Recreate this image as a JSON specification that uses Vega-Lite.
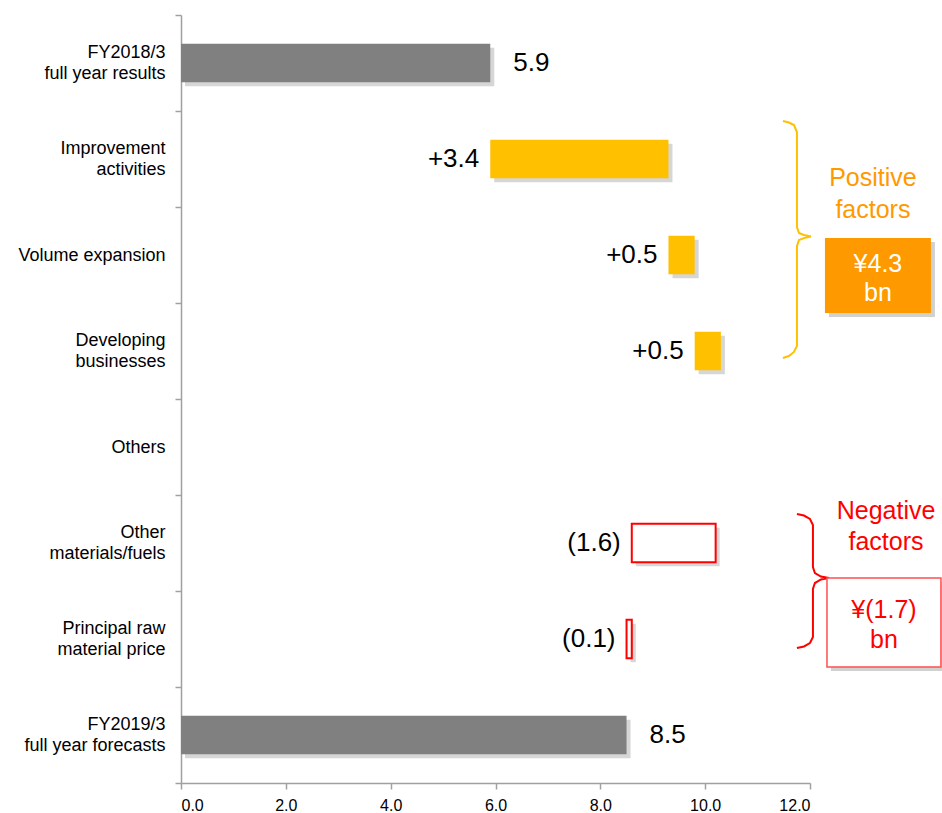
{
  "$schema": "https://vega.github.io/schema/vega-lite/v6.json",
  "width": 629,
  "height": 768,
  "autosize": {"type": "pad"},
  "padding": {"left": 17, "top": 14, "right": 0, "bottom": 0},
  "background": "white",
  "config": {"view": {"stroke": null}, "font": "Liberation Sans"},
  "datasets": {
    "bars": [
      {"cat": "FY2018/3|full year results", "start": 0, "end": 5.9, "type": "total", "label": "5.9"},
      {"cat": "Improvement|activities", "start": 5.9, "end": 9.3, "type": "pos", "label": "+3.4"},
      {"cat": "Volume expansion", "start": 9.3, "end": 9.8, "type": "pos", "label": "+0.5"},
      {"cat": "Developing|businesses", "start": 9.8, "end": 10.3, "type": "pos", "label": "+0.5"},
      {"cat": "Other|materials/fuels", "start": 8.6, "end": 10.2, "type": "neg", "label": "(1.6)"},
      {"cat": "Principal raw|material price", "start": 8.5, "end": 8.6, "type": "neg", "label": "(0.1)"},
      {"cat": "FY2019/3|full year forecasts", "start": 0, "end": 8.5, "type": "total", "label": "8.5"}
    ],
    "braces": [
      {"brace": "pos", "x": 11.484, "y": 1.104},
      {"brace": "pos", "x": 11.598, "y": 1.120},
      {"brace": "pos", "x": 11.694, "y": 1.146},
      {"brace": "pos", "x": 11.751, "y": 1.219},
      {"brace": "pos", "x": 11.751, "y": 2.208},
      {"brace": "pos", "x": 11.789, "y": 2.271},
      {"brace": "pos", "x": 11.885, "y": 2.292},
      {"brace": "pos", "x": 12.018, "y": 2.307},
      {"brace": "pos", "x": 11.885, "y": 2.324},
      {"brace": "pos", "x": 11.789, "y": 2.345},
      {"brace": "pos", "x": 11.751, "y": 2.408},
      {"brace": "pos", "x": 11.751, "y": 3.448},
      {"brace": "pos", "x": 11.694, "y": 3.510},
      {"brace": "pos", "x": 11.598, "y": 3.552},
      {"brace": "pos", "x": 11.484, "y": 3.573},
      {"brace": "neg", "x": 11.751, "y": 5.198},
      {"brace": "neg", "x": 11.885, "y": 5.214},
      {"brace": "neg", "x": 11.999, "y": 5.250},
      {"brace": "neg", "x": 12.056, "y": 5.313},
      {"brace": "neg", "x": 12.056, "y": 5.750},
      {"brace": "neg", "x": 12.094, "y": 5.813},
      {"brace": "neg", "x": 12.209, "y": 5.849},
      {"brace": "neg", "x": 12.362, "y": 5.865},
      {"brace": "neg", "x": 12.209, "y": 5.880},
      {"brace": "neg", "x": 12.094, "y": 5.917},
      {"brace": "neg", "x": 12.056, "y": 5.979},
      {"brace": "neg", "x": 12.056, "y": 6.479},
      {"brace": "neg", "x": 11.999, "y": 6.542},
      {"brace": "neg", "x": 11.885, "y": 6.578},
      {"brace": "neg", "x": 11.751, "y": 6.594}
    ],
    "boxes": [
      {"box": "pos", "x": 12.285, "x2": 14.307, "y": 2.323, "y2": 3.104},
      {"box": "neg", "x": 12.324, "x2": 14.498, "y": 5.865, "y2": 6.792}
    ],
    "notes": [
      {"group": "pos", "text": "Positive", "x": 13.2, "y": 1.698},
      {"group": "pos", "text": "factors", "x": 13.2, "y": 2.031},
      {"group": "posbox", "text": "¥4.3", "x": 13.296, "y": 2.59},
      {"group": "posbox", "text": "bn", "x": 13.296, "y": 2.896},
      {"group": "neg", "text": "Negative", "x": 13.45, "y": 5.167},
      {"group": "neg", "text": "factors", "x": 13.45, "y": 5.49},
      {"group": "neg", "text": "¥(1.7)", "x": 13.411, "y": 6.2},
      {"group": "neg", "text": "bn", "x": 13.411, "y": 6.51}
    ]
  },
  "layer": [
    {
      "data": {"name": "bars"},
      "encoding": {
        "y": {
          "field": "cat",
          "type": "nominal",
          "scale": {
            "domain": ["FY2018/3|full year results", "Improvement|activities", "Volume expansion", "Developing|businesses", "Others", "Other|materials/fuels", "Principal raw|material price", "FY2019/3|full year forecasts"],
            "paddingInner": 0,
            "paddingOuter": 0
          },
          "axis": {
            "title": null,
            "labelExpr": "isValid(datum.value) ? split(datum.value, '|') : ''",
            "labelFontSize": {"condition": {"test": "!isValid(datum.value)", "value": 0}, "value": 18},
            "labelColor": "#000000",
            "labelLineHeight": 21,
            "labelLimit": 400,
            "labelPadding": 10,
            "labelOffset": {"condition": {"test": "isValid(datum.value) && indexof(datum.value, '|') >= 0", "value": -10.5}, "value": 0},
            "tickBand": "extent",
            "tickSize": 6,
            "tickColor": "#a0a0a0",
            "tickWidth": 1.5,
            "domainColor": "#a0a0a0",
            "domainWidth": 1.5,
            "grid": false
          }
        },
        "x": {
          "field": "start",
          "type": "quantitative",
          "scale": {"domain": [0, 12], "nice": false},
          "axis": {
            "title": null,
            "values": [0, 2, 4, 6, 8, 10, 12],
            "format": ".1f",
            "labelFontSize": 16,
            "labelColor": "#000000",
            "labelPadding": 8,
            "tickSize": 6,
            "tickColor": "#a0a0a0",
            "tickWidth": 1.5,
            "domainColor": "#a0a0a0",
            "domainWidth": 1.5,
            "grid": false
          }
        }
      },
      "layer": [
        {
          "mark": {"type": "bar", "height": {"band": 0.4}, "fill": "#000000", "opacity": 0.16, "xOffset": 4, "x2Offset": 4, "yOffset": 4, "y2Offset": 4},
          "encoding": {"x2": {"field": "end"}}
        },
        {
          "transform": [{"filter": "datum.type === 'total'"}],
          "mark": {"type": "bar", "height": {"band": 0.4}, "fill": "#808080"},
          "encoding": {"x2": {"field": "end"}}
        },
        {
          "transform": [{"filter": "datum.type === 'pos'"}],
          "mark": {"type": "bar", "height": {"band": 0.4}, "fill": "#FFC000"},
          "encoding": {"x2": {"field": "end"}}
        },
        {
          "transform": [{"filter": "datum.type === 'neg'"}],
          "mark": {"type": "bar", "height": {"band": 0.4}, "fill": "#FFFFFF", "stroke": "#FF0000", "strokeWidth": 2},
          "encoding": {"x2": {"field": "end"}}
        },
        {
          "transform": [{"filter": "datum.type === 'total'"}],
          "mark": {"type": "text", "align": "left", "baseline": "middle", "dx": 23, "fontSize": 26, "color": "#000000"},
          "encoding": {"x": {"field": "end", "type": "quantitative"}, "text": {"field": "label"}}
        },
        {
          "transform": [{"filter": "datum.type !== 'total'"}],
          "mark": {"type": "text", "align": "right", "baseline": "middle", "dx": -11, "fontSize": 26, "color": "#000000"},
          "encoding": {"text": {"field": "label"}}
        }
      ]
    },
    {
      "layer": [
        {
          "data": {"name": "braces"},
          "transform": [{"filter": "datum.brace === 'pos'"}],
          "mark": {"type": "line", "color": "#FFC000", "strokeWidth": 2, "interpolate": "linear"},
          "encoding": {
            "x": {"field": "x", "type": "quantitative", "scale": {"domain": [0, 12], "nice": false}, "axis": null},
            "y": {"field": "y", "type": "quantitative", "scale": {"domain": [0, 8], "nice": false, "reverse": true}, "axis": null},
            "order": {"value": null}
          }
        },
        {
          "data": {"name": "braces"},
          "transform": [{"filter": "datum.brace === 'neg'"}],
          "mark": {"type": "line", "color": "#FF0000", "strokeWidth": 2, "interpolate": "linear"},
          "encoding": {
            "x": {"field": "x", "type": "quantitative"},
            "y": {"field": "y", "type": "quantitative"},
            "order": {"value": null}
          }
        },
        {
          "data": {"name": "boxes"},
          "mark": {"type": "rect", "fill": "#000000", "opacity": 0.18, "xOffset": 4, "x2Offset": 4, "yOffset": 4, "y2Offset": 4},
          "encoding": {
            "x": {"field": "x", "type": "quantitative"},
            "x2": {"field": "x2"},
            "y": {"field": "y", "type": "quantitative"},
            "y2": {"field": "y2"}
          }
        },
        {
          "data": {"name": "boxes"},
          "transform": [{"filter": "datum.box === 'pos'"}],
          "mark": {"type": "rect", "fill": "#FF9900"},
          "encoding": {
            "x": {"field": "x", "type": "quantitative"},
            "x2": {"field": "x2"},
            "y": {"field": "y", "type": "quantitative"},
            "y2": {"field": "y2"}
          }
        },
        {
          "data": {"name": "boxes"},
          "transform": [{"filter": "datum.box === 'neg'"}],
          "mark": {"type": "rect", "fill": "#FFFFFF", "stroke": "#FF5050", "strokeWidth": 1.5},
          "encoding": {
            "x": {"field": "x", "type": "quantitative"},
            "x2": {"field": "x2"},
            "y": {"field": "y", "type": "quantitative"},
            "y2": {"field": "y2"}
          }
        },
        {
          "data": {"name": "notes"},
          "transform": [{"filter": "datum.group === 'pos'"}],
          "mark": {"type": "text", "align": "center", "baseline": "middle", "fontSize": 25, "color": "#FF9900"},
          "encoding": {
            "x": {"field": "x", "type": "quantitative"},
            "y": {"field": "y", "type": "quantitative"},
            "text": {"field": "text"}
          }
        },
        {
          "data": {"name": "notes"},
          "transform": [{"filter": "datum.group === 'posbox'"}],
          "mark": {"type": "text", "align": "center", "baseline": "middle", "fontSize": 25, "color": "#FFFFFF"},
          "encoding": {
            "x": {"field": "x", "type": "quantitative"},
            "y": {"field": "y", "type": "quantitative"},
            "text": {"field": "text"}
          }
        },
        {
          "data": {"name": "notes"},
          "transform": [{"filter": "datum.group === 'neg'"}],
          "mark": {"type": "text", "align": "center", "baseline": "middle", "fontSize": 25, "color": "#FF0000"},
          "encoding": {
            "x": {"field": "x", "type": "quantitative"},
            "y": {"field": "y", "type": "quantitative"},
            "text": {"field": "text"}
          }
        }
      ]
    }
  ],
  "resolve": {"scale": {"x": "independent", "y": "independent"}}
}
